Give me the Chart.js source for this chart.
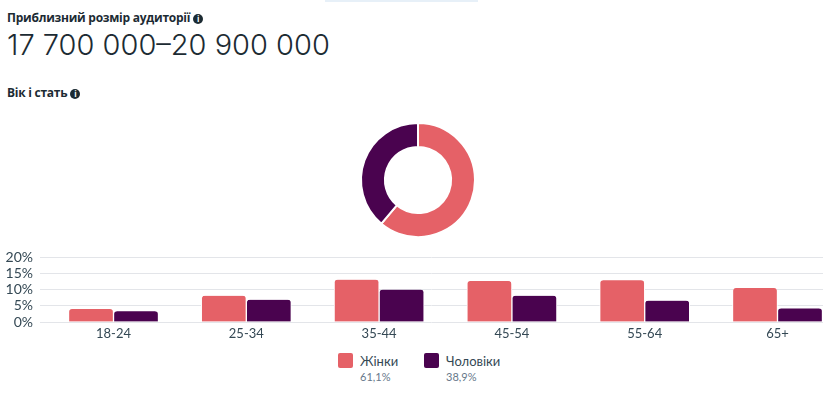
<!DOCTYPE html>
<html lang="uk">
<head>
<meta charset="utf-8">
<title>Вік і стать</title>
<script src="https://cdn.jsdelivr.net/npm/chart.js@4"></script>
<style>
  html, body { margin: 0; padding: 0; background: #fff; }
  body { width: 838px; height: 395px; position: relative; overflow: hidden; font-family: "Inter", sans-serif; color: #1c2b33; }
  canvas { display: block; }
  .abs { position: absolute; white-space: nowrap; }
  .topstrip { left: 325px; top: 0; width: 153px; height: 2px; background: #e7f0f8; }
  .heading { font-family: "Open Sans", sans-serif; font-size: 12px; font-weight: 700; line-height: 16px; letter-spacing: -0.25px; }
  .info { display: inline-block; width: 10px; height: 10px; border-radius: 50%; background: #1c2b33; color: #fff; font-size: 8px; line-height: 10px; text-align: center; font-weight: 700; margin-left: 0; vertical-align: 0; }
  .range { left: 7px; top: 26px; font-size: 29px; font-weight: 300; line-height: 38px; }
  #donutBox { left: 348px; top: 110px; width: 140px; height: 140px; }
  #barBox { left: 0; top: 242px; width: 838px; height: 103px; }
  .swatch { width: 15px; height: 15px; border-radius: 2px; }
  .name { font-size: 13px; line-height: 16px; color: #344854; font-family: "Lato", sans-serif; }
  .share { font-size: 11px; line-height: 14px; color: #67788a; font-family: "Lato", sans-serif; }
</style>
</head>
<body>
<div class="abs topstrip"></div>
<div class="abs heading" style="left:7px;top:10px">Приблизний розмір аудиторії <span class="info">i</span></div>
<div class="abs range">17 700 000–20 900 000</div>
<div class="abs heading" style="left:7px;top:85px">Вік і стать <span class="info">i</span></div>
<div class="abs" id="donutBox"><canvas id="donut" width="140" height="140"></canvas></div>
<div class="abs" id="barBox"><canvas id="bars" width="838" height="103"></canvas></div>
<div id="legend"></div>

<script>
const ageGroups = ["18-24", "25-34", "35-44", "45-54", "55-64", "65+"];
const women = [4.0, 8.1, 13.1, 12.7, 12.9, 10.5];
const men = [3.3, 6.9, 10.0, 8.1, 6.6, 4.2];
const genderNames = ["Жінки", "Чоловіки"];
const genderShares = [61.1, 38.9];
const genderLabels = ["61,1%", "38,9%"];
const yTicks = [0, 5, 10, 15, 20];
const colors = ["#e56167", "#4a034f"];

Chart.defaults.font.family = "Lato, sans-serif";
Chart.defaults.color = "#344854";
Chart.defaults.animation = false;

new Chart(document.getElementById("donut"), {
  type: "doughnut",
  data: {
    labels: genderNames,
    datasets: [{ data: genderShares, backgroundColor: colors, borderColor: "#fff", borderWidth: 2 }]
  },
  options: {
    responsive: false,
    cutout: "58%",
    radius: 57,
    plugins: { legend: { display: false }, tooltip: { enabled: false } }
  }
});

function barData(values) {
  return values.map((v, i) => ({ x: i, y: v }));
}

const barStyle = {
  barThickness: 45,
  borderWidth: { left: 1, right: 1, top: 0, bottom: 0 },
  borderColor: "#fff",
  borderSkipped: "bottom",
  borderRadius: 4
};

new Chart(document.getElementById("bars"), {
  type: "bar",
  data: {
    datasets: [
      { label: genderNames[0], data: barData(women), backgroundColor: colors[0], ...barStyle },
      { label: genderNames[1], data: barData(men), backgroundColor: colors[1], ...barStyle }
    ]
  },
  options: {
    responsive: false,
    layout: { padding: { top: 0, right: 15 } },
    plugins: { legend: { display: false }, tooltip: { enabled: false } },
    scales: {
      x: {
        type: "linear",
        offset: false,
        min: -0.5535,
        max: 5.3426,
        grid: { display: false, drawTicks: false },
        border: { display: false },
        afterFit: s => { s.height = 23; },
        afterBuildTicks: s => { s.ticks = ageGroups.map((_, i) => ({ value: i })); },
        ticks: {
          autoSkip: false,
          maxRotation: 0,
          padding: 4,
          font: { size: 13 },
          callback: v => ageGroups[v]
        }
      },
      y: {
        min: 0,
        max: 20,
        border: { display: false },
        grid: { color: "#e3e5e9", lineWidth: 1, drawTicks: false },
        afterFit: s => { s.width = 40; },
        afterBuildTicks: s => { s.ticks = yTicks.map(v => ({ value: v })); },
        ticks: {
          autoSkip: false,
          padding: 7,
          font: { size: 14 },
          callback: v => v + "%"
        }
      }
    }
  }
});

// legend sits under the chart, one block per gender
const legendX = [338, 424];
const legend = document.getElementById("legend");
genderNames.forEach((name, i) => {
  const swatch = document.createElement("div");
  swatch.className = "abs swatch";
  swatch.style.cssText = `left:${legendX[i]}px;top:353px;background:${colors[i]}`;
  const label = document.createElement("div");
  label.className = "abs name";
  label.style.cssText = `left:${legendX[i] + 22}px;top:353px`;
  label.textContent = name;
  const share = document.createElement("div");
  share.className = "abs share";
  share.style.cssText = `left:${legendX[i] + 22}px;top:370px`;
  share.textContent = genderLabels[i];
  legend.append(swatch, label, share);
});
</script>
</body>
</html>
